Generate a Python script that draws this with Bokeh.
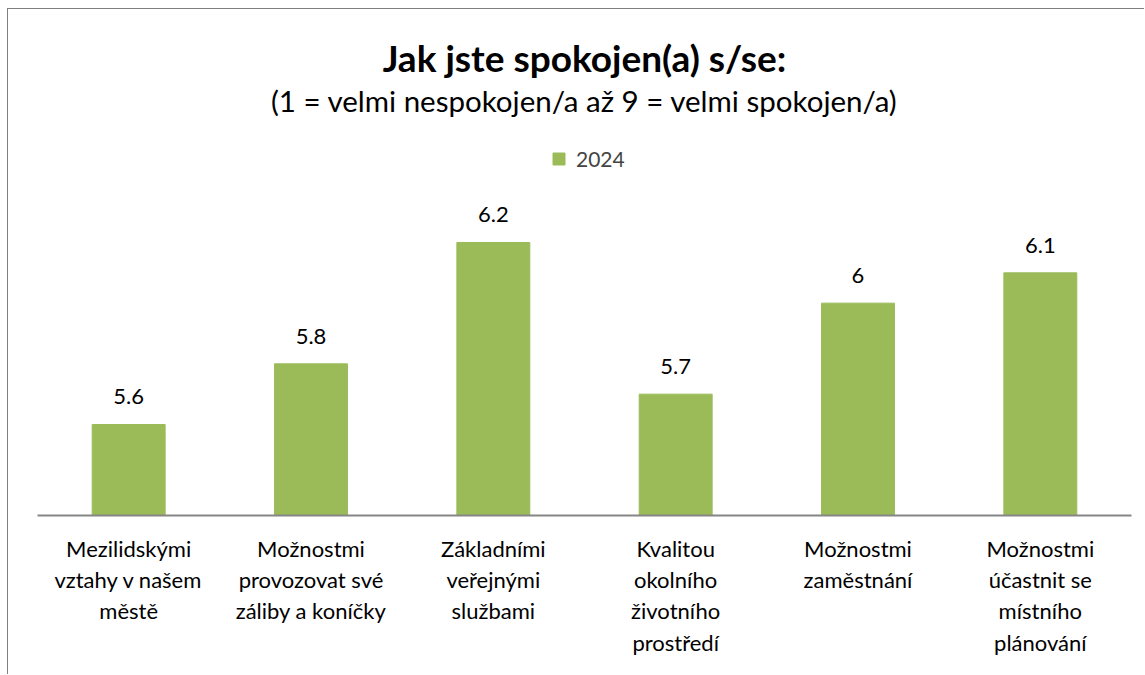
from bokeh.plotting import figure
from bokeh.layouts import column
from bokeh.models import FactorRange, Range1d, Label, Legend, LegendItem, ColumnDataSource
from bokeh.core.properties import value
from bokeh.embed import file_html
from bokeh.resources import INLINE

categories = [
    "Mezilidskými\nvztahy v našem\nměstě",
    "Možnostmi\nprovozovat své\nzáliby a koníčky",
    "Základními\nveřejnými\nslužbami",
    "Kvalitou\nokolního\nživotního\nprostředí",
    "Možnostmi\nzaměstnání",
    "Možnostmi\núčastnit se\nmístního\nplánování",
]
values_2024 = [5.6, 5.8, 6.2, 5.7, 6.0, 6.1]
series_name = "2024"
title_text = "Jak jste spokojen(a) s/se:"
subtitle_text = "(1 = velmi nespokojen/a až 9 = velmi spokojen/a)"

labels = [f"{v:g}" for v in values_2024]
src = ColumnDataSource(dict(cat=categories, val=values_2024, lab=labels))

FONT = "Lato"
BAR = "#9BBB59"
Y0, Y1 = 5.3, 6.968

p = figure(
    x_range=FactorRange(*categories),
    y_range=Range1d(Y0, Y1),
    width=1137, height=666,
    output_backend="svg", toolbar_location=None,
    min_border_left=29, min_border_right=14, min_border_top=0, min_border_bottom=160,
)
p.styles = {"border-top": "1px solid #7f7f7f", "border-left": "1px solid #7f7f7f"}
p.outline_line_color = None
p.xgrid.grid_line_color = None
p.ygrid.grid_line_color = None
p.yaxis.visible = False
p.xaxis.axis_line_color = "#868686"
p.xaxis.axis_line_width = 2
p.xaxis.major_tick_line_color = None
p.xaxis.minor_tick_line_color = None
p.xaxis.major_label_text_font = FONT
p.xaxis.major_label_text_font_size = "22px"
p.xaxis.major_label_text_color = "#000000"
p.xaxis.major_label_text_line_height = 1.163
p.xaxis.major_label_standoff = 13
p.x_range.range_padding = 0
p.x_range.factor_padding = 0

bars = p.vbar(x="cat", top="val", bottom=Y0, width=0.4, source=src,
              fill_color=BAR, line_color=BAR)

p.text(x="cat", y="val", text="lab", source=src, y_offset=-20,
       text_align="center", text_baseline="bottom",
       text_font=value(FONT), text_font_size="22px", text_color="#000000")

p.add_layout(Label(x=3.0, y=6.81, text=title_text, text_align="center",
                   text_baseline="middle", text_font=FONT, text_font_size="37px",
                   text_font_style="bold", text_color="#000000"))
p.add_layout(Label(x=3.0, y=6.668, text=subtitle_text, text_align="center",
                   text_baseline="middle", text_font=FONT, text_font_size="29.5px",
                   text_color="#000000"))

legend = Legend(items=[LegendItem(label=series_name, renderers=[bars])],
                location=(514, 344), orientation="horizontal",
                glyph_width=15, glyph_height=15, label_standoff=10,
                padding=0, margin=0, border_line_color=None,
                background_fill_alpha=0, label_text_font=FONT,
                label_text_font_size="21px", label_height=15)
p.add_layout(legend, "center")

layout = column(p)
layout.styles = {"padding-left": "7px", "padding-top": "8px"}

open("out.html", "w").write(file_html(layout, INLINE))
